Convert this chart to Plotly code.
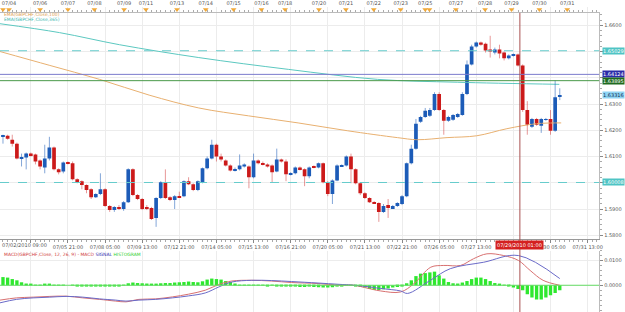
import plotly.graph_objects as go

# ---------------- data ----------------
opens = [1.6177,1.6179,1.6164,1.6149,1.6094,1.6096,1.6111,1.6108,1.6085,1.6058,
         1.6092,1.6134,1.6051,1.6043,1.6077,1.6074,1.6013,1.6006,1.5991,1.5975,
         1.5945,1.5957,1.5975,1.5911,1.5896,1.5908,1.5900,1.5926,1.6051,1.5953,
         1.5938,1.5908,1.5904,1.5866,1.5942,1.6002,1.5945,1.5934,1.5949,1.5949,
         1.6006,1.5994,1.5972,1.6002,1.6055,1.6092,1.6145,1.6100,1.6085,1.6066,
         1.6047,1.6051,1.6062,1.6062,1.6021,1.6085,1.6074,1.6070,1.6066,1.6043,
         1.6089,1.6081,1.6032,1.6036,1.6058,1.6051,1.6025,1.6062,1.6058,1.6074,
         1.6002,1.5957,1.6009,1.6064,1.6066,1.6100,1.6051,1.5998,1.5960,1.5942,
         1.5926,1.5923,1.5889,1.5915,1.5904,1.5911,1.5919,1.5949,1.6074,1.6130,
         1.6232,1.6251,1.6255,1.6277,1.6338,1.6277,1.6236,1.6240,1.6251,1.6258,
         1.6338,1.6451,1.6519,1.6534,1.6530,1.6508,1.6496,1.6508,1.6496,1.6474,
         1.6485,1.6489,1.6447,1.6277,1.6213,1.6243,1.6217,1.6240,1.6243,1.6198,
         1.6330]
highs = [1.6183,1.6183,1.6183,1.6153,1.6111,1.6115,1.6115,1.6111,1.6089,1.6145,
         1.6175,1.6138,1.6055,1.6081,1.6081,1.6081,1.6017,1.6009,1.5994,1.5979,
         1.5960,1.6036,1.5979,1.5915,1.5911,1.5915,1.5930,1.6055,1.6055,1.5957,
         1.5942,1.5915,1.5908,1.5945,1.6006,1.6051,1.5949,1.5953,1.5966,1.6009,
         1.6021,1.5998,1.6009,1.6058,1.6100,1.6164,1.6149,1.6111,1.6089,1.6070,
         1.6058,1.6108,1.6074,1.6066,1.6111,1.6089,1.6081,1.6074,1.6070,1.6130,
         1.6092,1.6089,1.6040,1.6062,1.6062,1.6055,1.6062,1.6066,1.6077,1.6077,
         1.6006,1.6013,1.6070,1.6070,1.6104,1.6111,1.6055,1.6002,1.5964,1.5945,
         1.5930,1.5926,1.5919,1.5938,1.5915,1.5926,1.5953,1.6077,1.6145,1.6243,
         1.6255,1.6285,1.6285,1.6345,1.6345,1.6281,1.6255,1.6262,1.6266,1.6345,
         1.6466,1.6526,1.6538,1.6538,1.6534,1.6560,1.6515,1.6526,1.6500,1.6489,
         1.6492,1.6492,1.6451,1.6311,1.6247,1.6247,1.6247,1.6247,1.6277,1.6391,
         1.6360]
lows = [1.6149,1.6164,1.6138,1.6089,1.6062,1.6051,1.6100,1.6070,1.6051,1.6036,
        1.6085,1.6047,1.6032,1.6036,1.6070,1.6009,1.5998,1.5975,1.5960,1.5938,
        1.5942,1.5953,1.5908,1.5889,1.5889,1.5896,1.5893,1.5923,1.5949,1.5934,
        1.5896,1.5896,1.5858,1.5832,1.5938,1.5938,1.5930,1.5900,1.5942,1.5945,
        1.5991,1.5968,1.5968,1.5998,1.6051,1.6089,1.6081,1.6081,1.6062,1.6043,
        1.6043,1.6047,1.6058,1.5979,1.6017,1.6070,1.6066,1.6058,1.6002,1.6040,
        1.6077,1.6006,1.6028,1.6032,1.6047,1.5987,1.6017,1.6055,1.6055,1.5998,
        1.5949,1.5919,1.6006,1.6062,1.6062,1.5998,1.5994,1.5953,1.5938,1.5923,
        1.5919,1.5851,1.5885,1.5866,1.5900,1.5908,1.5915,1.5945,1.6070,1.6126,
        1.6228,1.6247,1.6251,1.6274,1.6274,1.6183,1.6232,1.6236,1.6247,1.6255,
        1.6334,1.6447,1.6515,1.6522,1.6496,1.6477,1.6489,1.6474,1.6466,1.6470,
        1.6481,1.6443,1.6270,1.6183,1.6209,1.6217,1.6190,1.6236,1.6183,1.6194,
        1.6315]
closes = [1.6179,1.6168,1.6149,1.6092,1.6096,1.6111,1.6106,1.6081,1.6062,1.6092,
          1.6134,1.6051,1.6040,1.6077,1.6074,1.6013,1.6006,1.5991,1.5972,1.5945,
          1.5957,1.5975,1.5911,1.5896,1.5908,1.5900,1.5926,1.6051,1.5953,1.5938,
          1.5900,1.5900,1.5862,1.5942,1.6002,1.5942,1.5934,1.5949,1.5945,1.6006,
          1.5994,1.5972,1.6006,1.6055,1.6092,1.6145,1.6100,1.6089,1.6066,1.6047,
          1.6051,1.6066,1.6070,1.6021,1.6085,1.6074,1.6070,1.6062,1.6040,1.6089,
          1.6081,1.6032,1.6036,1.6058,1.6051,1.6025,1.6058,1.6058,1.6074,1.6002,
          1.5957,1.6009,1.6066,1.6066,1.6100,1.6051,1.5998,1.5960,1.5942,1.5926,
          1.5923,1.5889,1.5911,1.5904,1.5911,1.5923,1.5949,1.6074,1.6130,1.6225,
          1.6251,1.6274,1.6277,1.6338,1.6277,1.6236,1.6251,1.6258,1.6262,1.6338,
          1.6451,1.6519,1.6534,1.6526,1.6504,1.6500,1.6508,1.6492,1.6474,1.6485,
          1.6489,1.6447,1.6277,1.6221,1.6243,1.6221,1.6243,1.6243,1.6198,1.6326,
          1.6334]

ema100_idx = [-0.64, 10.1, 20.8, 31.5, 42.2, 52.9, 63.6, 74.3, 85.0, 89.3, 95.7, 102.1, 108.6, 115.0, 120.3]
ema100_val = [1.6500, 1.6447, 1.6394, 1.6334, 1.6285, 1.6255, 1.6228, 1.6198, 1.6172, 1.6164, 1.6172, 1.6179, 1.6206, 1.6225, 1.6228]
ema365_idx = [-0.64, 12.2, 25.1, 42.2, 61.5, 80.7, 97.9, 119.9]
ema365_val = [1.6606, 1.6572, 1.6526, 1.6477, 1.6432, 1.6394, 1.6383, 1.6375]

macd_idx = [-0.64, 2.9, 6.5, 10.1, 13.6, 17.2, 20.8, 24.3, 26.5, 29.3, 32.9, 36.5, 40.0, 43.6, 46.5, 49.3,
            53.6, 57.9, 62.2, 67.9, 72.2, 75.7, 77.9, 81.4, 85.7, 88.6, 92.2, 95.0, 98.6, 101.4, 104.3,
            107.9, 111.1, 113.6, 116.4, 120.0]
macd_val = [-0.0060, -0.0051, -0.0048, -0.0045, -0.0044, -0.0051, -0.0057, -0.0064, -0.0067, -0.0057,
            -0.0055, -0.0047, -0.0036, -0.0020, 0.0003, 0.0017, 0.0020, 0.0017, 0.0011, 0.0007, 0.0000,
            0.0000, -0.0009, -0.0023, -0.0027, 0.0007, 0.0073, 0.0080, 0.0080, 0.0107, 0.0127, 0.0120,
            0.0100, 0.0060, 0.0020, 0.0000]
signal_idx = [-0.64, 2.9, 6.5, 10.1, 13.6, 17.2, 20.8, 24.3, 26.5, 29.3, 32.9, 36.5, 40.0, 43.6, 46.5, 49.3,
              53.6, 57.9, 62.2, 67.9, 72.2, 75.7, 77.9, 81.4, 85.7, 87.2, 92.2, 96.4, 103.6, 111.1, 120.0]
signal_val = [-0.0071, -0.0057, -0.0051, -0.0048, -0.0045, -0.0048, -0.0055, -0.0060, -0.0064, -0.0060,
              -0.0057, -0.0051, -0.0043, -0.0031, -0.0007, 0.0013, 0.0020, 0.0019, 0.0015, 0.0009, 0.0004,
              0.0000, -0.0004, -0.0013, -0.0023, -0.0033, 0.0021, 0.0067, 0.0093, 0.0120, 0.0027]
hist_val = [0.0033, 0.0031, 0.0025, 0.0020, 0.0012, 0.0007, 0.0004, 0.0001, 0.0001, 0.0003,
            0.0003, 0.0001, 0.0002, 0.0001, 0.0000, -0.0001, -0.0003, -0.0004, -0.0005, -0.0005,
            -0.0005, -0.0004, -0.0004, -0.0005, -0.0004, -0.0003, -0.0001, 0.0008, 0.0011, 0.0009,
            0.0008, 0.0007, 0.0004, 0.0004, 0.0008, 0.0009, 0.0009, 0.0011, 0.0012, 0.0013,
            0.0015, 0.0013, 0.0012, 0.0016, 0.0023, 0.0027, 0.0025, 0.0023, 0.0017, 0.0013,
            0.0007, 0.0001, -0.0001, -0.0001, 0.0001, -0.0001, -0.0001, -0.0003, -0.0001, -0.0003,
            -0.0003, -0.0003, -0.0004, -0.0004, -0.0007, -0.0007, -0.0005, -0.0007, -0.0008, -0.0009,
            -0.0009, -0.0008, -0.0004, -0.0003, -0.0001, -0.0001, -0.0004, -0.0007, -0.0009, -0.0015,
            -0.0019, -0.0019, -0.0016, -0.0013, -0.0009, -0.0007, -0.0004, 0.0008, 0.0020, 0.0037,
            0.0047, 0.0049, 0.0052, 0.0055, 0.0040, 0.0027, 0.0013, 0.0008, 0.0007, 0.0011,
            0.0017, 0.0025, 0.0031, 0.0031, 0.0025, 0.0017, 0.0009, 0.0004, -0.0001, -0.0005,
            -0.0009, -0.0015, -0.0020, -0.0036, -0.0049, -0.0057, -0.0057, -0.0049, -0.0040, -0.0031,
            -0.0020]

bottom_tick_idx = [6, 14, 22, 30, 38, 46, 54, 62, 70, 78, 86, 94, 102, 110, 118, 126]
bottom_tick_text = ["", "07/05 21:00", "07/08 05:00", "07/09 13:00", "07/12 21:00", "07/14 05:00",
                    "07/15 13:00", "07/16 21:00", "07/20 05:00", "07/21 13:00", "07/22 21:00",
                    "07/26 05:00", "07/27 13:00", "", "07/30 05:00", "07/31 13:00"]
first_date_label = "07/02/2010 09:00"

top_tick_idx = [1.3, 8.0, 14.0, 19.7, 26.1, 30.8, 37.5, 43.7, 49.7, 55.7, 60.8, 68.1, 73.9, 79.9,
                85.7, 91.0, 97.6, 103.9, 109.6, 115.6, 121.6]
top_tick_text = ["07/04", "07/06", "07/07", "07/08", "07/09", "07/11", "07/13", "07/14", "07/15",
                 "07/16", "07/18", "07/20", "07/21", "07/22", "07/23", "07/25", "07/27", "07/28",
                 "07/29", "07/30", "07/31"]
extra_marker_idx = [0.0, 91.9]

cursor_idx = 111.4
cursor_label = "07/29/2010 01:00"

level_dash_vals = [1.6503, 1.6001]
level_purple = 1.6413
level_green = 1.6389
label_vals = [1.6503, 1.6414, 1.6388, 1.6334, 1.6001]
label_text = ["1.65029", "1.64124", "1.63895", "1.63316", "1.60008"]
label_bg = ["#4fc4c4", "#2a2aa8", "#1f6a1f", "#8fd4f4", "#4fc4c4"]
label_fg = ["white", "white", "white", "#103050", "white"]

price_ticks = [1.58, 1.59, 1.60, 1.61, 1.62, 1.63, 1.64, 1.65, 1.66]
price_tick_text = ["1.5800", "1.5900", "", "1.6100", "1.6200", "1.6300", "", "", "1.6600"]

# ---------------- geometry ----------------
W, H = 625, 312
PX_R = 603
x_dom = [0, PX_R / W]
x_rng = [(0 - 3) / 4.67, (PX_R - 3) / 4.67]
main_dom = [1 - 238 / H, 1 - 10 / H]
macd_dom = [0, 1 - 250 / H]
tri_dom = [1 - 9 / H, 1 - 4 / H]
FONT = "DejaVu Sans"
BLUE = "#1d5cb8"
RED = "#cc1b1b"

n = len(opens)
idx = list(range(n))
up = [i for i in idx if closes[i] >= opens[i]]
dn = [i for i in idx if closes[i] < opens[i]]
MINH = 0.0003

def body(ids):
    base = [min(opens[i], closes[i]) for i in ids]
    hgt = [max(abs(closes[i] - opens[i]), MINH) for i in ids]
    return base, hgt

def wick(ids):
    xs, ys = [], []
    for i in ids:
        xs += [i, i, None]
        ys += [lows[i], highs[i], None]
    return xs, ys

fig = go.Figure()

# EMAs
fig.add_trace(go.Scatter(x=ema100_idx, y=ema100_val, mode="lines", line=dict(color="#e8b070", width=1, shape="spline"),
                         hoverinfo="skip", showlegend=False))
fig.add_trace(go.Scatter(x=ema365_idx, y=ema365_val, mode="lines", line=dict(color="#5cc8c0", width=1, shape="spline"),
                         hoverinfo="skip", showlegend=False))

# wicks
for ids, col in ((up, "rgba(29,92,184,0.55)"), (dn, "rgba(204,27,27,0.45)")):
    wx, wy = wick(ids)
    fig.add_trace(go.Scatter(x=wx, y=wy, mode="lines", line=dict(color=col, width=1), hoverinfo="skip", showlegend=False))

# bodies
for ids, col in ((up, BLUE), (dn, RED)):
    b, h = body(ids)
    fig.add_trace(go.Bar(x=ids, y=h, base=b, width=0.8, marker=dict(color=col, line=dict(width=0)), showlegend=False))

# MACD
fig.add_trace(go.Bar(x=idx, y=hist_val, width=0.72, marker=dict(color="#2ee82e", line=dict(width=0)),
                     xaxis="x2", yaxis="y2", showlegend=False))
fig.add_trace(go.Scatter(x=macd_idx, y=macd_val, mode="lines", line=dict(color="#d87070", width=1, shape="spline"),
                         xaxis="x2", yaxis="y2", showlegend=False))
fig.add_trace(go.Scatter(x=signal_idx, y=signal_val, mode="lines", line=dict(color="#6a6ac8", width=1, shape="spline"),
                         xaxis="x2", yaxis="y2", showlegend=False))

# top triangles
tri_x = top_tick_idx + extra_marker_idx
fig.add_trace(go.Scatter(x=tri_x, y=[0.5] * len(tri_x), mode="markers",
                         marker=dict(symbol="triangle-down", size=5, color="#f0a838"),
                         xaxis="x", yaxis="y3", showlegend=False, cliponaxis=False))

shapes = []
for v in level_dash_vals:
    shapes.append(dict(type="line", xref="x domain", yref="y", x0=0, x1=1, y0=v, y1=v,
                       line=dict(color="#66cccc", width=1, dash="dash")))
shapes.append(dict(type="line", xref="x domain", yref="y", x0=0, x1=1, y0=level_purple, y1=level_purple,
                   line=dict(color="#7a7acc", width=1)))
shapes.append(dict(type="line", xref="x domain", yref="y", x0=0, x1=1, y0=level_green, y1=level_green,
                   line=dict(color="#4a9a4a", width=1)))
shapes.append(dict(type="line", xref="x2 domain", yref="y2", x0=0, x1=1, y0=0, y1=0,
                   line=dict(color="#66dd66", width=1)))
shapes.append(dict(type="line", xref="x", yref="paper", x0=cursor_idx, x1=cursor_idx, y0=0, y1=main_dom[1],
                   line=dict(color="#a85050", width=1)))

ann = []
for v, t, bg, fg in zip(label_vals, label_text, label_bg, label_fg):
    ann.append(dict(xref="paper", yref="y", x=PX_R / W + 0.004, y=v, xanchor="left", yanchor="middle",
                    text=t, showarrow=False, bgcolor=bg, borderpad=0,
                    font=dict(family=FONT, size=5, color=fg)))
ann.append(dict(xref="x", yref="paper", x=cursor_idx, y=1 - 244 / H, xanchor="center", yanchor="middle",
                text=cursor_label, showarrow=False, bgcolor="#d42020", borderpad=1,
                font=dict(family=FONT, size=5, color="white")))
ann.append(dict(xref="paper", yref="paper", x=0.0, y=1 - 244 / H, xanchor="left", yanchor="middle",
                text=first_date_label, showarrow=False, font=dict(family=FONT, size=5, color="#555")))
ann.append(dict(xref="paper", yref="paper", x=0.003, y=1 - 12 / H, xanchor="left", yanchor="middle",
                text="EMA(GBPCHF,Close,100)", showarrow=False, font=dict(family=FONT, size=4.5, color="#e0a050")))
ann.append(dict(xref="paper", yref="paper", x=0.003, y=1 - 16.5 / H, xanchor="left", yanchor="middle",
                text="EMA(GBPCHF,Close,365)", showarrow=False, font=dict(family=FONT, size=4.5, color="#40b8b0")))
ann.append(dict(xref="paper", yref="paper", x=0.003, y=1 - 253.5 / H, xanchor="left", yanchor="middle",
                text="<span style='color:#d04040'>MACD(GBPCHF,Close, 12, 26, 9) - MACD</span> "
                     "<span style='color:#3030b0'>SIGNAL</span> <span style='color:#30d030'>HISTOGRAM</span>",
                showarrow=False, font=dict(family=FONT, size=4.5, color="#d04040")))

grid = "#ececec"
axfont = dict(family=FONT, size=5, color="#555")
fig.update_layout(
    width=W, height=H, margin=dict(l=0, r=0, t=0, b=0),
    paper_bgcolor="white", plot_bgcolor="white", barmode="overlay", showlegend=False,
    shapes=shapes, annotations=ann,
    xaxis=dict(domain=x_dom, range=x_rng, anchor="y", tickmode="array", tickvals=bottom_tick_idx,
               ticktext=bottom_tick_text, showgrid=True, gridcolor=grid, gridwidth=1, zeroline=False,
               ticks="outside", ticklen=3, tickcolor="#888", tickfont=axfont, showline=True, linecolor="#999",
               linewidth=1, minor=dict(ticks="outside", ticklen=2, tickcolor="#aaa", tickmode="linear",
                                      tick0=0, dtick=1, showgrid=False)),
    yaxis=dict(domain=main_dom, range=[1.578679, 1.664717], anchor="x", side="right", tickmode="array",
               tickvals=price_ticks, ticktext=price_tick_text, showgrid=True, gridcolor=grid,
               zeroline=False, ticks="outside", ticklen=3, tickcolor="#888", tickfont=axfont, showline=True,
               linecolor="#bbb", minor=dict(ticks="outside", ticklen=2, tickcolor="#aaa", tickmode="linear",
                                            tick0=1.58, dtick=0.002, showgrid=False)),
    xaxis3=dict(overlaying="x", side="top", anchor="y", range=x_rng, tickmode="array", tickvals=top_tick_idx,
                ticktext=top_tick_text, showgrid=False, zeroline=False, ticks="outside", ticklen=5,
                tickcolor="rgba(0,0,0,0)", tickfont=axfont, showline=True, linecolor="#bbb",
                minor=dict(ticks="outside", ticklen=2, tickcolor="#aaa", tickmode="linear", tick0=0, dtick=1)),
    yaxis3=dict(domain=tri_dom, range=[0, 1], anchor="x", visible=False),
    xaxis2=dict(domain=x_dom, range=x_rng, anchor="y2", tickmode="array", tickvals=bottom_tick_idx,
                showticklabels=False, showgrid=True, gridcolor=grid, zeroline=False, ticks=""),
    yaxis2=dict(domain=macd_dom, range=[-0.0108, 0.014], anchor="x2", side="right", tickmode="array",
                tickvals=[0, 0.01], ticktext=["0.0000", "0.0100"], showgrid=True, gridcolor=grid, zeroline=False,
                ticks="outside", ticklen=3, tickcolor="#888", tickfont=axfont, showline=True, linecolor="#bbb",
                minor=dict(ticks="outside", ticklen=2, tickcolor="#aaa", tickmode="linear", tick0=0,
                           dtick=0.002, showgrid=False)),
)
# dummy trace to activate the top axis
fig.add_trace(go.Scatter(x=[x_rng[0]], y=[1.66], xaxis="x3", yaxis="y", mode="markers",
                         marker=dict(size=1, color="rgba(0,0,0,0)"), showlegend=False, hoverinfo="skip"))

fig.write_html("out.html")
